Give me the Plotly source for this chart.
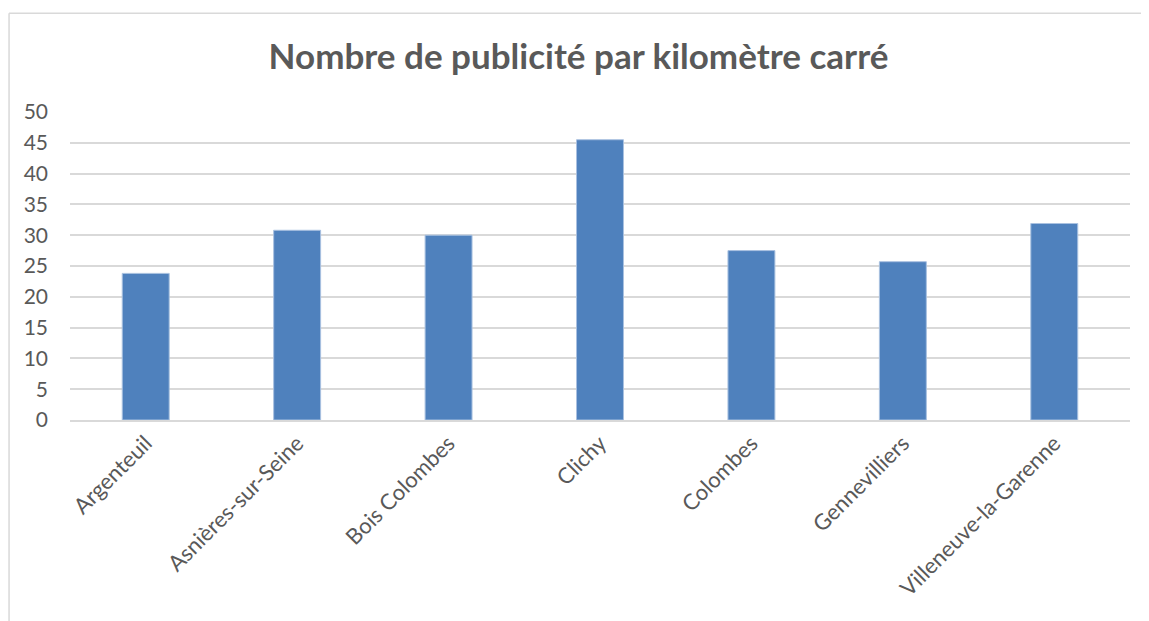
import plotly.graph_objects as go

villes = ['Argenteuil', 'Asnières-sur-Seine', 'Bois Colombes', 'Clichy',
          'Colombes', 'Gennevilliers', 'Villeneuve-la-Garenne']
pub_km2 = [23.8, 30.8, 30.0, 45.5, 27.5, 25.7, 31.9]
y_ticks = [0, 5, 10, 15, 20, 25, 30, 35, 40, 45, 50]

gris = '#595959'
fig = go.Figure()
fig.add_trace(go.Bar(x=villes, y=pub_km2, marker=dict(color='#4f81bd', line=dict(color='#a9c1e0', width=1))))

# la page ajoute 8px de marge autour du graphique
fig.update_layout(
    width=1141, height=613,
    margin=dict(l=62, r=19, t=104, b=201),
    paper_bgcolor='white', plot_bgcolor='white',
    bargap=0.69,
    showlegend=False,
    font=dict(family='Lato', color=gris, size=21),
    title=dict(text='<b>Nombre de publicité par kilomètre carré</b>', x=0.5, xanchor='center',
               y=0.92, yanchor='middle', font=dict(family='Lato', size=35, color=gris)),
)
fig.update_yaxes(range=[0, 50], tickvals=y_ticks, showgrid=True, gridcolor='#d9d9d9', gridwidth=1.5,
                 zeroline=False, showline=False, ticks='', ticklabelstandoff=21, fixedrange=True)
fig.update_xaxes(tickangle=-45, showline=True, linecolor='#d9d9d9', linewidth=1.5, ticks='',
                 tickfont=dict(size=22), fixedrange=True)

# cadre du graphique (bords haut et gauche seulement visibles)
cadre = dict(color='#d9d9d9', width=1.5)
fig.add_shape(type='line', xref='paper', yref='paper', x0=-0.0575, x1=1.1, y0=1.321, y1=1.321, line=cadre)
fig.add_shape(type='line', xref='paper', yref='paper', x0=-0.0575, x1=-0.0575, y0=-0.7, y1=1.321, line=cadre)

fig.write_html("out.html", config={'displayModeBar': False})
